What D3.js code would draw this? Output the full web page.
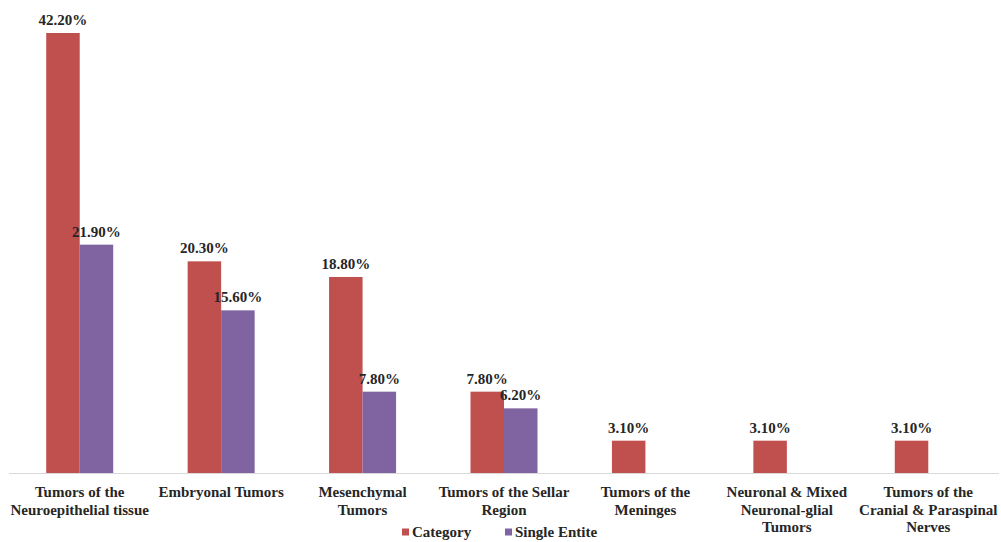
<!DOCTYPE html>
<html>
<head>
<meta charset="utf-8">
<script src="https://cdn.jsdelivr.net/npm/d3@7"></script>
<style>
  html, body { margin: 0; padding: 0; background: #fff; }
</style>
</head>
<body>
<svg id="chart" width="1001" height="542"></svg>
<script>
// Tumour groups and their share (%) by category and by single entity
const categories = [
  ["Tumors of the", "Neuroepithelial tissue"],
  ["Embryonal Tumors"],
  ["Mesenchymal", "Tumors"],
  ["Tumors of the Sellar", "Region"],
  ["Tumors of the", "Meninges"],
  ["Neuronal & Mixed", "Neuronal-glial", "Tumors"],
  ["Tumors of the", "Cranial & Paraspinal", "Nerves"]
];
const categoryValues = [42.2, 20.3, 18.8, 7.8, 3.1, 3.1, 3.1];
const singleEntityValues = [21.9, 15.6, 7.8, 6.2, null, null, null];
const seriesNames = ["Category", "Single Entite"];
const seriesColors = ["#C0504D", "#8064A2"];

const FONT = "'Liberation Serif', 'Times New Roman', 'DejaVu Serif', serif";
const TEXT_COLOR = "#262626";

const svg = d3.select("#chart");
const baseY = 473;

const x = d3.scaleBand()
  .domain(d3.range(categories.length))
  .range([9, 999])
  .paddingInner(0)
  .paddingOuter(0);

const inner = d3.scaleBand()
  .domain([0, 1])
  .range([x.bandwidth() / 2 - 33.5, x.bandwidth() / 2 + 33.5]);

const y = d3.scaleLinear().domain([0, 42.2]).range([baseY, 33]);

const series = [categoryValues, singleEntityValues];

function styleText(sel, size) {
  return sel
    .attr("font-family", FONT)
    .attr("font-weight", "bold")
    .attr("font-size", size)
    .attr("fill", TEXT_COLOR);
}

// baseline axis
svg.append("line")
  .attr("x1", 9).attr("x2", 999)
  .attr("y1", baseY + 0.5).attr("y2", baseY + 0.5)
  .attr("stroke", "#d9d9d9").attr("stroke-width", 1);

const groups = svg.selectAll("g.grp")
  .data(categories)
  .join("g")
  .attr("class", "grp")
  .attr("transform", (d, i) => `translate(${x(i)},0)`);

series.forEach((vals, s) => {
  groups.each(function(d, i) {
    const v = vals[i];
    if (v == null) return;
    d3.select(this).append("rect")
      .attr("x", inner(s))
      .attr("y", y(v))
      .attr("width", inner.bandwidth())
      .attr("height", baseY - y(v))
      .attr("fill", seriesColors[s]);
  });
});

// value labels drawn after bars so they sit on top
series.forEach((vals, s) => {
  groups.each(function(d, i) {
    const v = vals[i];
    if (v == null) return;
    styleText(d3.select(this).append("text"), 15)
      .attr("x", inner(s) + inner.bandwidth() / 2)
      .attr("y", y(v) - 8)
      .attr("text-anchor", "middle")
      .text(v.toFixed(2) + "%");
  });
});

// category labels
styleText(groups.append("text"), 15)
  .attr("x", x.bandwidth() / 2)
  .attr("y", 497)
  .attr("text-anchor", "middle")
  .selectAll("tspan")
  .data(d => d)
  .join("tspan")
  .attr("x", x.bandwidth() / 2)
  .attr("dy", (d, i) => i === 0 ? 0 : 17.5)
  .text(d => d);

// legend
const legend = svg.append("g").attr("transform", "translate(402,532)");
const legendX = [0, 103];
seriesNames.forEach((name, s) => {
  const item = legend.append("g").attr("transform", `translate(${legendX[s]},0)`);
  item.append("rect")
    .attr("x", 0).attr("y", -3.5).attr("width", 7).attr("height", 7)
    .attr("fill", seriesColors[s]);
  styleText(item.append("text"), 15)
    .attr("x", 10).attr("y", 5)
    .text(name);
});
</script>
</body>
</html>
